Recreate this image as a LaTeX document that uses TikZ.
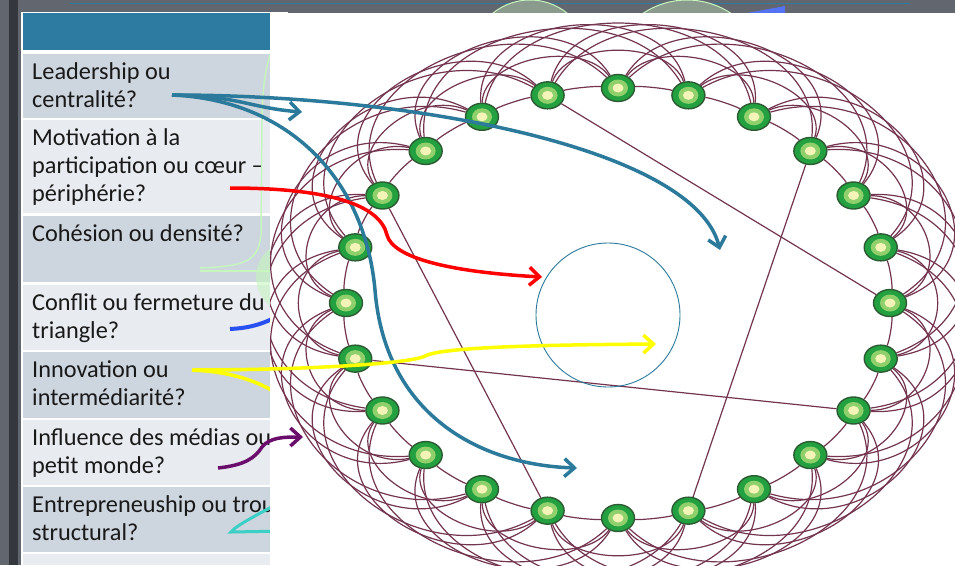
\documentclass[tikz,border=0pt]{standalone}
\usepackage{fontspec}
\setmainfont{Carlito}
\usetikzlibrary{arrows.meta,shapes.geometric}

\pgfdeclarelayer{back}
\pgfdeclarelayer{links}
\pgfsetlayers{back,links,main}

\definecolor{slide}{HTML}{62666F}
\definecolor{frame}{HTML}{34373D}
\definecolor{head}{HTML}{2E7BA1}
\definecolor{rowdark}{HTML}{CDD5DE}
\definecolor{rowlight}{HTML}{E8EBF0}
\definecolor{arrowteal}{HTML}{2B7A9B}
\definecolor{linkcol}{HTML}{73344F}
\definecolor{nodeedge}{HTML}{2C5B33}
\definecolor{nodeouter}{HTML}{23A03F}
\definecolor{nodering}{HTML}{8FD06C}
\definecolor{nodecore}{HTML}{F5F4B8}
\definecolor{faintgreen}{HTML}{C6F5BE}
\definecolor{discfill}{HTML}{8A9A8C}
\definecolor{inkpurple}{HTML}{6A0E6C}
\definecolor{inkblue}{HTML}{2850F0}
\definecolor{inkcyan}{HTML}{3CCFC6}
\definecolor{inkyellow}{HTML}{FFFF00}

\tikzset{
  netnode/.style={ellipse, minimum width=33pt, minimum height=27pt, inner sep=0pt,
    draw=nodeedge, line width=1.4pt, fill=nodeouter,
    path picture={
      \fill[nodering] (path picture bounding box.center) ellipse [x radius=10pt, y radius=8.5pt];
      \fill[nodecore] (path picture bounding box.center) ellipse [x radius=5.5pt, y radius=4.5pt];}},
  link/.style={draw=linkcol, line width=1.2pt},
  rowtext/.style={anchor=north west, align=left, inner sep=0pt, text=black!90,
    font=\fontsize{24.3}{28}\selectfont},
  fat/.style={line width=3.5pt, -{Straight Barb[length=10pt,width=18pt]}},
}

\begin{document}
\begin{tikzpicture}[x=1pt, y=-1pt]
\useasboundingbox (0,0) rectangle (955,565);

\begin{pgfonlayer}{back}
% slide behind the pictures
\fill[slide] (0,0) rectangle (955,565);
\fill[frame] (9,0) rectangle (18,565);
\draw[head, line width=0.8pt] (70,3) -- (910,3);
\begin{scope}
  \clip (270,0) rectangle (955,12);
  \filldraw[fill=discfill, draw=faintgreen, line width=1pt] (530,59) circle (59);
  \filldraw[fill=discfill, draw=faintgreen, line width=1pt] (687,79) circle (79);
  \fill[inkblue!80] (747,13) -- (785,6) -- (785,13) -- cycle;
\end{scope}

% table
\fill[white] (21,12) rectangle (288,565);
\fill[head] (23,13) rectangle (271,50);
\foreach \ya/\yb/\fc/\tx [count=\k] in {
    54/118/rowdark/{Leadership ou\\centralité?},
    120/213/rowlight/{Motivation à la\\participation ou cœur –\\périphérie?},
    216/282/rowdark/{Cohésion ou densité?},
    285/350/rowlight/{Conflit ou fermeture du\\triangle?},
    352/418/rowdark/{Innovation ou\\intermédiarité?},
    420/485/rowlight/{Influence des médias ou\\petit monde?},
    487/552/rowdark/{Entrepreneuship ou trou\\structural?},
    554/565/rowlight/{}} {
  \fill[\fc] (23,\ya) rectangle (271,\yb);
  \node[rowtext] (r\k) at (32,\ya+6) {\strut\tx};
}

% strokes hidden under the network
\draw[faintgreen, line width=1.5pt] (200,268) .. controls (245,266) and (258,262) .. (261,235)
  -- (262,120) .. controls (262,90) and (266,60) .. (274,46);
\draw[faintgreen, line width=1.5pt] (200,271) -- (280,271);
\fill[faintgreen, opacity=.6] (292,277) circle (36);
\draw[inkyellow, line width=3.5pt] (192,370) .. controls (235,372) and (260,382) .. (285,398);
\draw[inkblue, line width=4pt] (230,329) .. controls (250,328) and (265,324) .. (285,312);
\draw[inkcyan, line width=3pt] (285,500) .. controls (262,512) and (235,526) .. (231,532) -- (285,531);

% white panel with the network
\fill[white] (270,13) rectangle (955,565);
\end{pgfonlayer}

% ring of actors
\foreach \i in {0,...,23}
  \node[netnode] (n\i) at ({618+272*cos(15*\i)},{303-215*sin(15*\i)}) {};

\begin{pgfonlayer}{links}
\begin{scope}
  \clip (270,13) rectangle (955,565);
  \foreach \i in {0,...,23} {
    \foreach \hop/\kt/\kn in {1/0.33/0.08, 2/0.14/0.5, 3/0.04/0.63, 4/0.1/0.56} {
      \pgfmathtruncatemacro\j{mod(\i+\hop,24)}
      \pgfmathsetmacro\ax{cos(15*\i)}
      \pgfmathsetmacro\ay{sin(15*\i)}
      \pgfmathsetmacro\bx{cos(15*(\i+\hop))}
      \pgfmathsetmacro\by{sin(15*(\i+\hop))}
      \pgfmathsetmacro\vx{\bx-\ax}
      \pgfmathsetmacro\vy{\by-\ay}
      \pgfmathsetmacro\pa{618+272*(\ax+\kt*\vx+\kn*\vy)}
      \pgfmathsetmacro\pb{303-215*(\ay+\kt*\vy-\kn*\vx)}
      \pgfmathsetmacro\qa{618+272*(\bx-\kt*\vx+\kn*\vy)}
      \pgfmathsetmacro\qb{303-215*(\by-\kt*\vy-\kn*\vx)}
      \draw[link] (n\i) .. controls (\pa,\pb) and (\qa,\qb) .. (n\j);
    }
  }
  % rewired ties
  \draw[link] (n7) -- (n0);
  \draw[link] (n3) -- (n19);
  \draw[link] (n10) -- (n17);
  \draw[link] (n13) -- (n22);
\end{scope}
\end{pgfonlayer}

\node[circle, draw=arrowteal, line width=0.9pt, minimum size=144pt, inner sep=0pt] (core) at (608,315) {};

% arrows from the questions
\coordinate (lead) at (172,95);
\coordinate (motiv) at (230,188);
\coordinate (innov) at (192,370);
\coordinate (media) at (218,468);
\coordinate (tipA) at (302,112);
\coordinate (tipB) at (720,250);
\coordinate (tipC) at (577,468);
\coordinate (tipR) at (542,277);
\coordinate (tipY) at (656,344);
\coordinate (tipP) at (303,437);

\draw[fat, arrowteal] (lead) .. controls (240,96) and (250,108) .. (tipA);
\draw[fat, arrowteal] (lead) .. controls (420,95) and (695,150) .. (tipB);
\draw[fat, arrowteal] (lead) .. controls (290,100) and (365,180) .. (375,290)
  .. controls (385,415) and (480,465) .. (tipC);
\draw[fat, red] (motiv) .. controls (330,188) and (380,205) .. (387,235)
  .. controls (393,258) and (450,272) .. (tipR);
\draw[fat, inkyellow] (innov) .. controls (300,370) and (410,364) .. (425,356)
  .. controls (440,348) and (520,345) .. (tipY);
\draw[fat, inkpurple] (media) .. controls (245,465) and (255,458) .. (262,447)
  .. controls (270,437) and (285,437) .. (tipP);

\end{tikzpicture}
\end{document}
